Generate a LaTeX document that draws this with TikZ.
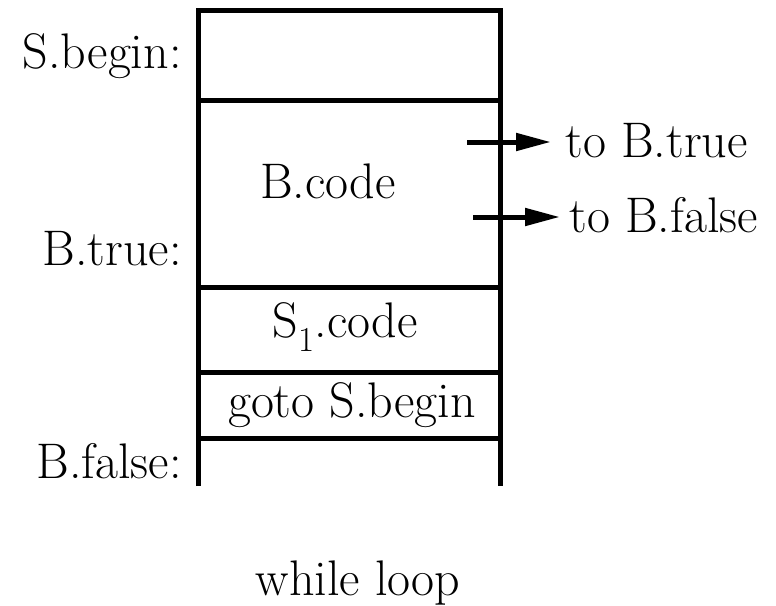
\documentclass[tikz,border=0pt]{standalone}
\usepackage{fontspec}
\usetikzlibrary{arrows.meta,positioning}

\begin{document}
\begin{tikzpicture}[x=1pt, y=-1pt, line width=5pt, >={Triangle[length=35pt,width=17pt]},
    lbl/.style={font=\fontsize{50}{60}\selectfont, inner sep=0pt}]
    \useasboundingbox (0,0) rectangle (776,605);

    % frame of the code layout
    \coordinate (tl) at (198,10);
    \coordinate (tr) at (500,10);
    \coordinate (bl) at (198,486);
    \coordinate (br) at (500,486);
    \draw (bl) -- (tl) -- (tr) -- (br);
    \foreach \y in {100,287,372,438}
        \draw (tl |- 0,\y) -- (tr |- 0,\y);

    % labels
    \node[lbl, anchor=base east] (sbegin) at (184,68)  {S.begin:};
    \node[lbl, anchor=base east] (btrue)  at (184,265) {B.true:};
    \node[lbl, anchor=base east] (bfalse) at (184,478) {B.false:};
    \node[lbl, anchor=base] (bcode)  at (328,198) {B.code};
    \node[lbl, anchor=base] (scode)  at (345,337) {S\textsubscript{1}.code};
    \node[lbl, anchor=base] (gotos)  at (352,417) {goto S.begin};
    \node[lbl, anchor=base] (wloop)  at (358,595) {while loop};
    \node[lbl, anchor=base west] (totrue)  at (563,157) {to B.true};
    \node[lbl, anchor=base west] (tofalse) at (567,232) {to B.false};

    % jumps out of B.code
    \coordinate (jt) at (467,142);
    \coordinate (jf) at (473,217);
    \path[->]
    (jt) edge[shorten >=12pt] (jt -| totrue.west)
    (jf) edge[shorten >=7pt] (jf -| tofalse.west);
\end{tikzpicture}
\end{document}
